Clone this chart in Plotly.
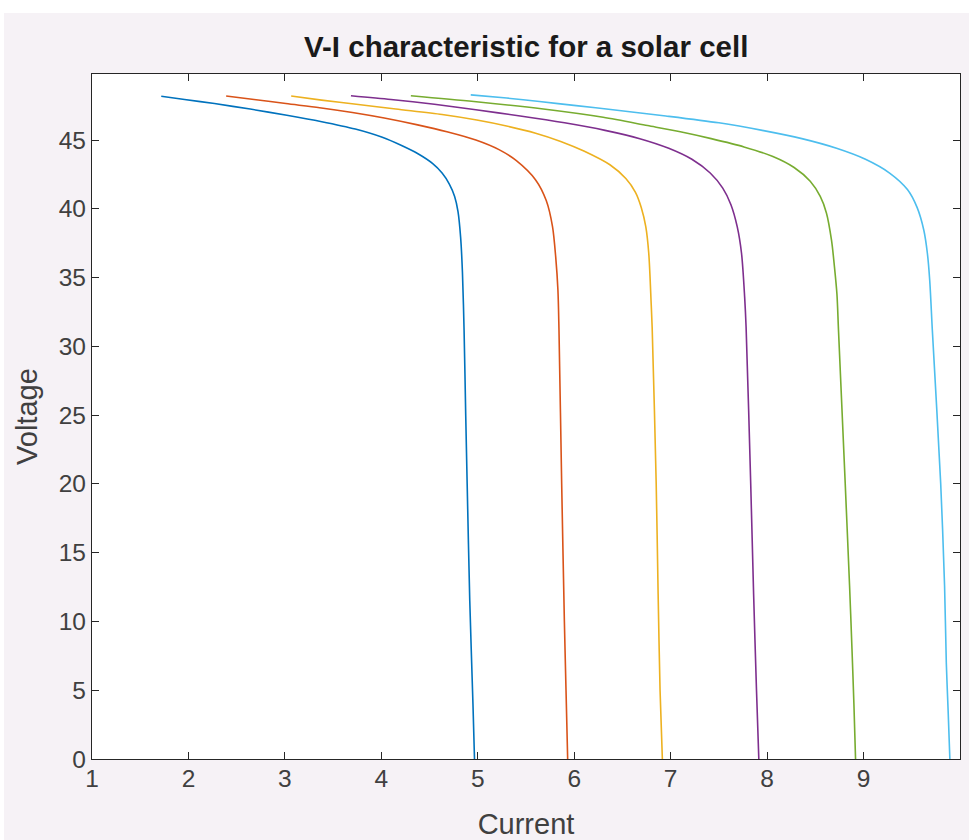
import plotly.graph_objects as go

# Voltage (V) and current (A) samples, one pair per curve
v_blue = [0, 4, 11.5, 20, 25, 31.15, 35.39, 37.94, 39.8, 40.9, 41.8, 42.6, 43.3, 44.0, 44.6, 45.2, 45.8, 46.35, 46.8, 47.25, 47.65, 47.95, 48.18]
i_blue = [4.966, 4.95, 4.917, 4.89, 4.875, 4.858, 4.841, 4.822, 4.795, 4.76, 4.705, 4.63, 4.53, 4.38, 4.21, 4.01, 3.73, 3.37, 3.02, 2.64, 2.27, 1.96, 1.718]

v_red = [0, 5, 10, 20, 31.2, 34.1, 36.5, 38.7, 40.6, 42.1, 43.5, 44.3, 45.0, 45.6, 46.1, 46.6, 47.0, 47.35, 47.65, 47.95, 48.2]
i_red = [5.932, 5.915, 5.898, 5.87, 5.842, 5.831, 5.808, 5.775, 5.71, 5.6, 5.4, 5.22, 4.98, 4.68, 4.376, 4.03, 3.7, 3.36, 3.01, 2.68, 2.391]

v_yellow = [0, 5, 12, 20, 31.4, 33.1, 36.75, 38.7, 40.1, 41.2, 42.2, 43.2, 44.2, 44.9, 45.5, 46.0, 46.45, 46.85, 47.25, 47.6, 47.9, 48.2]
i_yellow = [6.914, 6.89, 6.87, 6.85, 6.808, 6.798, 6.773, 6.742, 6.695, 6.635, 6.535, 6.37, 6.1, 5.86, 5.6, 5.31, 4.99, 4.63, 4.15, 3.74, 3.38, 3.065]

v_purple = [0, 5, 12, 20, 31.4, 33.6, 36.75, 38.7, 40.3, 41.5, 42.6, 43.6, 44.4, 45.1, 45.7, 46.25, 46.75, 47.2, 47.6, 47.95, 48.22]
i_purple = [7.914, 7.89, 7.86, 7.83, 7.782, 7.767, 7.735, 7.69, 7.625, 7.54, 7.41, 7.22, 6.98, 6.68, 6.32, 5.9, 5.44, 4.98, 4.55, 4.1, 3.685]

v_green = [0, 4, 8, 12.6, 20, 31.2, 33.8, 35.8, 37.7, 39.7, 40.9, 42.0, 43.0, 43.8, 44.5, 45.1, 45.6, 46.05, 46.65, 47.25, 47.8, 48.22]
i_green = [8.917, 8.9, 8.88, 8.855, 8.81, 8.74, 8.724, 8.698, 8.668, 8.615, 8.551, 8.447, 8.28, 8.06, 7.76, 7.42, 7.1, 6.76, 6.3, 5.68, 4.96, 4.306]

v_cyan = [0, 3.5, 7, 12.6, 20, 31.2, 34.8, 36.75, 38.44, 40.1, 41.4, 42.6, 43.6, 44.4, 45.1, 45.7, 46.25, 46.75, 47.2, 47.5, 47.8, 48.05, 48.28]
i_cyan = [9.895, 9.877, 9.858, 9.84, 9.8, 9.713, 9.686, 9.662, 9.625, 9.555, 9.455, 9.27, 9.02, 8.72, 8.36, 7.95, 7.5, 6.95, 6.4, 6.02, 5.64, 5.3, 4.927]

x_ticks = [1, 2, 3, 4, 5, 6, 7, 8, 9, 10]
y_ticks = [0, 5, 10, 15, 20, 25, 30, 35, 40, 45]

curves = [
    (i_blue, v_blue, "#0072BD"),
    (i_red, v_red, "#D95319"),
    (i_yellow, v_yellow, "#EDB120"),
    (i_purple, v_purple, "#7E2F8E"),
    (i_green, v_green, "#77AC30"),
    (i_cyan, v_cyan, "#4DBEEE"),
]

FONT = "Liberation Sans, Arial, sans-serif"

fig = go.Figure()
for cur, volt, col in curves:
    fig.add_trace(go.Scatter(x=cur, y=volt, mode="lines",
                             line=dict(color=col, width=1.6, shape="spline", smoothing=0.8),
                             showlegend=False, hoverinfo="skip"))

axis_common = dict(
    showline=True, linecolor="#262626", linewidth=1.2, mirror="ticks",
    ticks="inside", ticklen=7, tickwidth=1.2, tickcolor="#262626",
    showgrid=False, zeroline=False, automargin=False,
    tickfont=dict(family=FONT, size=24.5, color="#404040"),
)

fig.update_layout(
    width=969, height=840,
    margin=dict(l=92, r=9, t=74, b=81),
    paper_bgcolor="#f6f2f6",
    plot_bgcolor="white",
    title=dict(text="<b>V-I characteristic for a solar cell</b>",
               x=0.543, xanchor="center", y=0.944, yanchor="middle",
               font=dict(family=FONT, size=29.5, color="#1a1a1a")),
    xaxis=dict(range=[1, 10], tickvals=x_ticks, ticktext=[str(t) for t in x_ticks],
               ticklabelstandoff=-3,
               title=dict(text="Current", standoff=24,
                          font=dict(family=FONT, size=29, color="#404040")),
               **axis_common),
    yaxis=dict(range=[0, 49.8], tickvals=y_ticks, ticktext=[str(t) for t in y_ticks],
               title=dict(text="Voltage", standoff=12,
                          font=dict(family=FONT, size=29, color="#404040")),
               **axis_common),
    shapes=[
        dict(type="rect", xref="paper", yref="paper", x0=-0.2, x1=1.1, y0=1 + 61 / 685, y1=1 + 80 / 685,
             fillcolor="white", line=dict(width=0), layer="below"),
        dict(type="rect", xref="paper", yref="paper", x0=-0.2, x1=-88 / 868, y0=-0.2, y1=1.2,
             fillcolor="white", line=dict(width=0), layer="below"),
    ],
)

fig.write_html("out.html")
